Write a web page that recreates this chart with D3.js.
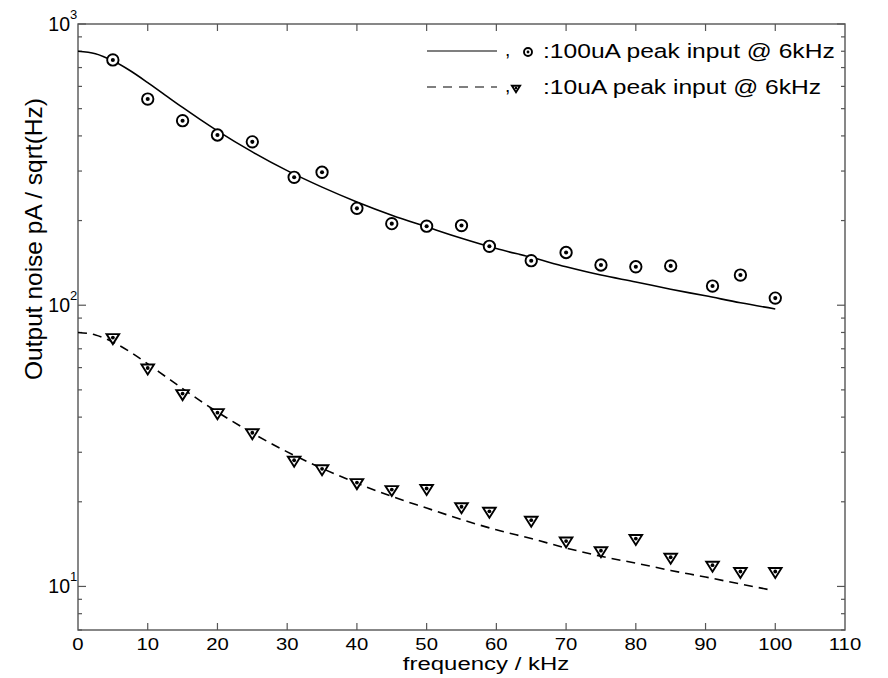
<!DOCTYPE html>
<html>
<head>
<meta charset="utf-8">
<script src="https://cdn.jsdelivr.net/npm/d3@7"></script>
<style>
    body { margin:0; background:#fff; }
    svg { display:block; }
    text { font-family:"Liberation Sans", Arial, Helvetica, sans-serif; fill:#000; }
</style>
</head>
<body>
<svg id="chart" width="888" height="678"></svg>
<script>
// measured points (frequency kHz, noise pA/sqrt(Hz))
var freq100 = [5,10,15,20,25,31,35,40,45,50,55,59,65,70,75,80,85,91,95,100];
var noise100 = [745,541,453,403,381,285,297,221,195,191,192,162,144,154,139,137,138,117,128,106];
var freq10 = [5,10,15,20,25,31,35,40,45,50,55,59,65,70,75,80,85,91,95,100];
var noise10 = [76.7,59.8,48.5,41.5,35.2,28.1,26.2,23.4,22.1,22.3,19.2,18.5,17.2,14.5,13.4,14.8,12.7,11.9,11.3,11.3];

// model curves
var fitFreq100 = [0,2.5,5,7.5,10,12.5,15,17.5,20,25,30,35,40,45,50,55,60,65,70,75,80,85,90,95,100];
var fit100 = [800,784,740,682,619,559,505,458,417,351,301,263,233,209,190,173,159,148,137,128,121,114,108,102,97];
var fitFreq10 = [0,2.5,5,7.5,10,12.5,15,17.5,20,25,30,35,40,45,50,55,60,65,70,75,80,85,90,95,99];
var fit10 = [80,78.4,74,68.2,61.9,55.9,50.5,45.8,41.7,35.1,30.1,26.3,23.3,20.9,19.0,17.3,15.9,14.8,13.7,12.8,12.1,11.4,10.8,10.2,9.75];

var xTicks = [0,10,20,30,40,50,60,70,80,90,100,110];
var yDecades = [1,2,3];
var legendLabels = [":100uA peak input @ 6kHz", ":10uA peak input @ 6kHz"];

var svg = d3.select("#chart");
var L = 78, R = 845, T = 24, B = 630;
var x = d3.scaleLinear().domain([0,110]).range([L,R]);
var y = d3.scaleLog().domain([7,1000]).range([B,T]);
var axisCol = "#555";

svg.append("rect").attr("width",888).attr("height",678).attr("fill","#fff");

// box
svg.append("rect").attr("x",L).attr("y",T).attr("width",R-L).attr("height",B-T)
    .attr("fill","none").attr("stroke",axisCol).attr("stroke-width",1.4);

// x ticks (bottom and top, inward)
var xt = xTicks.filter(function(d){ return d>0 && d<110; });
svg.selectAll(".xtb").data(xt).enter().append("line")
    .attr("x1",function(d){return x(d);}).attr("x2",function(d){return x(d);})
    .attr("y1",B).attr("y2",B-7).attr("stroke",axisCol).attr("stroke-width",1.2);
svg.selectAll(".xtt").data(xt).enter().append("line")
    .attr("x1",function(d){return x(d);}).attr("x2",function(d){return x(d);})
    .attr("y1",T).attr("y2",T+7).attr("stroke",axisCol).attr("stroke-width",1.2);

// y ticks, major + minor, both sides
var yt = [];
for (var e=0; e<3; e++) {
    for (var m=1; m<10; m++) {
        var v = m*Math.pow(10,e);
        if (v>=7) yt.push({v:v, major:m===1});
    }
}
yt.push({v:1000, major:true});
yt.forEach(function(t){
    var len = t.major ? 8 : 4;
    svg.append("line").attr("x1",L).attr("x2",L+len).attr("y1",y(t.v)).attr("y2",y(t.v))
        .attr("stroke",axisCol).attr("stroke-width",1.2);
    svg.append("line").attr("x1",R).attr("x2",R-len).attr("y1",y(t.v)).attr("y2",y(t.v))
        .attr("stroke",axisCol).attr("stroke-width",1.2);
});

// x tick labels (last one cut at the right edge like the scan)
svg.append("clipPath").attr("id","clipx").append("rect").attr("x",0).attr("y",0).attr("width",863).attr("height",678);
var xl = svg.append("g").attr("clip-path","url(#clipx)");
xTicks.forEach(function(d){
    xl.append("text").attr("transform","translate("+x(d)+",649.5) scale(1.27,1)")
        .attr("text-anchor","middle").attr("font-size",16).text(d);
});

// y tick labels 10^n
yDecades.forEach(function(p){
    var yy = y(Math.pow(10,p));
    svg.append("text").attr("x",70).attr("y",yy+6.5).attr("text-anchor","end")
        .attr("font-size",19.5).text("10");
    svg.append("text").attr("x",70).attr("y",yy-5).attr("text-anchor","start")
        .attr("font-size",13).text(p);
});

// axis labels
svg.append("text").attr("transform","translate(486,670) scale(1.26,1)")
    .attr("text-anchor","middle").attr("font-size",19).text("frequency / kHz");
svg.append("text").attr("transform","translate(42,239) rotate(-90)")
    .attr("text-anchor","middle").attr("font-size",24.5).text("Output noise pA / sqrt(Hz)");

// curves
var line = d3.line().curve(d3.curveMonotoneX)
    .x(function(d){return x(d[0]);}).y(function(d){return y(d[1]);});
svg.append("path").datum(d3.zip(fitFreq100, fit100)).attr("d",line)
    .attr("fill","none").attr("stroke","#000").attr("stroke-width",1.6);
svg.append("path").datum(d3.zip(fitFreq10, fit10)).attr("d",line)
    .attr("fill","none").attr("stroke","#000").attr("stroke-width",1.6)
    .attr("stroke-dasharray","9,6");

// markers
function circleMark(g, cx, cy, r) {
    g.append("circle").attr("cx",cx).attr("cy",cy).attr("r",r)
        .attr("fill","#fff").attr("stroke","#000").attr("stroke-width",1.9);
    g.append("circle").attr("cx",cx).attr("cy",cy).attr("r",r*0.36).attr("fill","#000");
}
function triMark(g, cx, cy, s) {
    var pts = [[cx-6.3*s,cy-3.5*s],[cx+6.3*s,cy-3.5*s],[cx,cy+6.5*s]];
    g.append("polygon").attr("points",pts.map(function(p){return p.join(",");}).join(" "))
        .attr("fill","#fff").attr("stroke","#000").attr("stroke-width",1.9)
        .attr("stroke-linejoin","miter");
    g.append("circle").attr("cx",cx).attr("cy",cy).attr("r",1.9*s).attr("fill","#000");
}
var mk = svg.append("g");
d3.zip(freq100, noise100).forEach(function(d){ circleMark(mk, x(d[0]), y(d[1]), 5.7); });
d3.zip(freq10, noise10).forEach(function(d){ triMark(mk, x(d[0]), y(d[1]), 1); });

// legend
var lg = svg.append("g");
var rows = [51, 87];
lg.append("line").attr("x1",427).attr("x2",497).attr("y1",rows[0]).attr("y2",rows[0])
    .attr("stroke","#000").attr("stroke-width",1.2);
lg.append("line").attr("x1",427).attr("x2",497).attr("y1",rows[1]).attr("y2",rows[1])
    .attr("stroke","#000").attr("stroke-width",1.2).attr("stroke-dasharray","9,7");
lg.append("text").attr("x",505).attr("y",rows[0]+5).attr("font-size",19).text(",");
lg.append("text").attr("x",505).attr("y",rows[1]+5).attr("font-size",19).text(",");
circleMark(lg, 528, rows[0]+1, 4);
triMark(lg, 516, rows[1]+1, 0.65);
legendLabels.forEach(function(t,i){
    lg.append("text").attr("transform","translate(543,"+(rows[i]+6.5)+") scale(1.25,1)")
        .attr("font-size",19.7).text(t);
});
</script>
</body>
</html>
